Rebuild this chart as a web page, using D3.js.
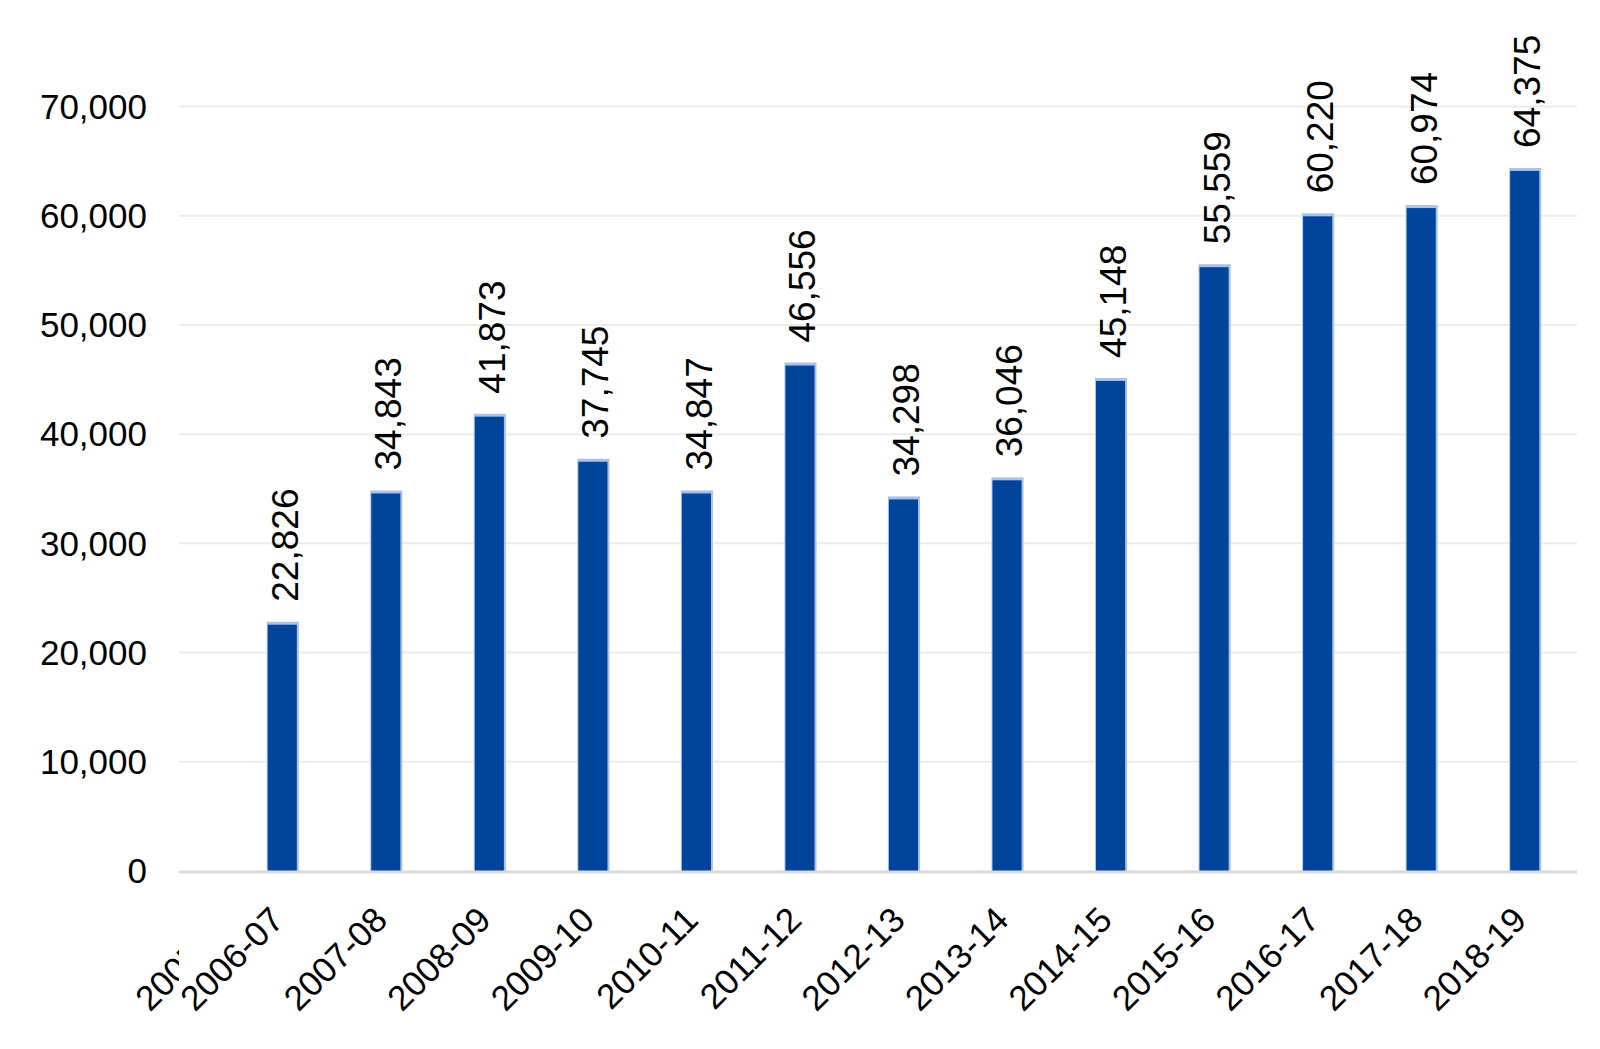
<!DOCTYPE html>
<html>
<head>
<meta charset="utf-8">
<script src="https://cdn.jsdelivr.net/npm/d3@7"></script>
<style>
html,body{margin:0;padding:0;background:#fff;}
svg{display:block;}
text{font-family:"Liberation Sans",Arial,sans-serif;fill:#000;}
</style>
</head>
<body>
<svg id="chart" width="1600" height="1049"></svg>
<script>
const categories = ["2006-07","2007-08","2008-09","2009-10","2010-11","2011-12","2012-13","2013-14","2014-15","2015-16","2016-17","2017-18","2018-19"];
const values = [22826,34843,41873,37745,34847,46556,34298,36046,45148,55559,60220,60974,64375];
const yTicks = [0,10000,20000,30000,40000,50000,60000,70000];
const hiddenLabel = "2005-06";

const svg = d3.select("#chart");
const axisLeft = 179, axisRight = 1577;
const x = d3.scaleBand().domain(categories).range([231, axisRight]).paddingInner(0.69).paddingOuter(0.345);
const y = d3.scaleLinear().domain([0,70000]).range([871,106.5]);
const fmt = d3.format(",");

// gridlines
svg.append("g").selectAll("line").data(yTicks.filter(d=>d>0)).join("line")
  .attr("x1", axisLeft).attr("x2", axisRight)
  .attr("y1", d=>y(d)).attr("y2", d=>y(d))
  .attr("stroke", "#ececec").attr("stroke-width", 2);

// y tick labels
svg.append("g").selectAll("text").data(yTicks).join("text")
  .attr("x", 147).attr("y", d=>y(d)).attr("dy","0.35em")
  .attr("text-anchor","end").attr("font-size",35)
  .text(d=>fmt(d));

// bars
const bw = x.bandwidth();
const bars = svg.append("g").selectAll("g").data(categories).join("g");
bars.append("rect")
  .attr("x", d=>x(d)).attr("width", bw)
  .attr("y", (d,i)=>y(values[i])).attr("height", (d,i)=>y(0)-y(values[i]))
  .attr("fill", "#a9c3e8");
bars.append("rect")
  .attr("x", d=>x(d)+1).attr("width", bw-3)
  .attr("y", (d,i)=>y(values[i])+3).attr("height", (d,i)=>y(0)-y(values[i])-3)
  .attr("fill", "#00449c");

// baseline
svg.append("line").attr("x1", axisLeft).attr("x2", axisRight)
  .attr("y1", y(0)+1).attr("y2", y(0)+1)
  .attr("stroke","#d9d9d9").attr("stroke-width",3);

// data labels
svg.append("g").selectAll("text").data(categories).join("text")
  .attr("transform", (d,i)=>`translate(${x(d)+bw/2+2},${y(values[i])-20}) rotate(-90)`)
  .attr("dy","0.35em").attr("font-size",37)
  .text((d,i)=>fmt(values[i]));

// x labels
svg.append("g").selectAll("text").data(categories).join("text")
  .attr("transform", d=>`translate(${x(d)+bw/2+3},922) rotate(-45)`)
  .attr("text-anchor","end").attr("font-size",35)
  .text(d=>d);

// clipped leftover label
svg.append("clipPath").attr("id","clipL").append("rect")
  .attr("x",0).attr("y",0).attr("width",axisLeft).attr("height",1049);
svg.append("g").attr("clip-path","url(#clipL)")
  .append("text")
  .attr("transform", `translate(${x(categories[0])+bw/2+3-45},922) rotate(-45)`)
  .attr("text-anchor","end").attr("font-size",35)
  .text(hiddenLabel);
</script>
</body>
</html>
